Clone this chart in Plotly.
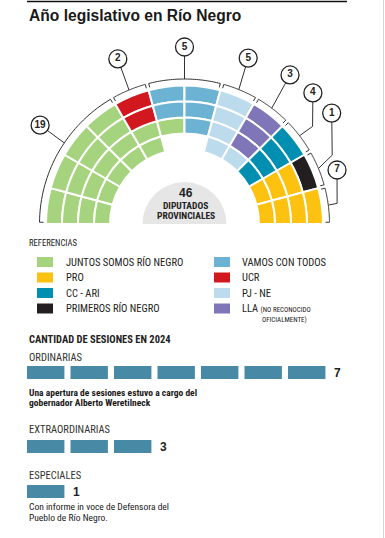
import plotly.graph_objects as go
import numpy as np

W, H = 385, 538

# ---------------- data ----------------
# parties in angular order (left -> right); "VAC" = empty slots in the inner ring
party_keys = ["JSRN", "UCR", "VCT", "VAC", "PJNE", "LLA", "CCARI", "PRN", "PRO"]
party_names = ["JUNTOS SOMOS RÍO NEGRO", "UCR", "VAMOS CON TODOS", "", "PJ - NE",
               "LLA", "CC - ARI", "PRIMEROS RÍO NEGRO", "PRO"]
party_colors = ["#a6d37d", "#d1181f", "#6cb3d3", None, "#bcdbec",
                "#7e76b8", "#008fb0", "#231f20", "#fdc10f"]
# seats per party in each ring (outer -> inner)
seats_ring1 = [4, 1, 2, 0, 1, 1, 1, 1, 1]
seats_ring2 = [4, 1, 2, 0, 1, 1, 1, 0, 2]
seats_ring3 = [6, 0, 1, 0, 1, 1, 1, 0, 2]
seats_ring4 = [5, 0, 0, 2, 2, 0, 1, 0, 2]

legend_left = ["JSRN", "PRO", "CCARI", "PRN"]
legend_right = ["VCT", "UCR", "PJNE", "LLA"]

session_types = ["ORDINARIAS", "EXTRAORDINARIAS", "ESPECIALES"]
session_counts = [7, 3, 1]
session_notes = [["Una apertura de sesiones estuvo a cargo del", "gobernador Alberto Weretilneck"],
                 [],
                 ["Con informe in voce de Defensora del", "Pueblo de Río Negro."]]

# ---------------- layout constants ----------------
FONT_N = "Liberation Sans Narrow, Roboto Condensed, Arial Narrow, sans-serif"
FONT_T = "Liberation Sans, Arial, sans-serif"
INK = "#222222"
CX, CY = 184.5, 224.0
R_MAX = 184.5
RING_OUTER = [138.5, 122.5, 106.5, 90.5]
RING_T = 16.0
BR = 145.0       # bracket radius
BR_TICK = 141.0
# callouts: (start theta on bracket, elbow (r, theta) or None, circle (r, theta))
callouts = {
    "JSRN": (146.0, None, (175.0, 145.6)),
    "UCR": (112.5, None, (178.0, 112.0)),
    "VCT": (90.0, None, (177.0, 90.0)),
    "PJNE": (68.0, None, (177.7, 69.0)),
    "LLA": (53.0, None, (182.6, 54.7)),
    "CCARI": (37.5, (161.0, 37.3), (183.5, 45.6)),
    "PRN": (22.5, (163.0, 25.0), (184.3, 37.0)),
    "PRO": (7.5, (154.0, 7.7), (161.8, 19.5)),
}

fig = go.Figure()

# gray centre
fig.add_trace(go.Barpolar(theta=[90], r=[42], base=[0], width=[180],
                          marker=dict(color="#e6e6e6", line=dict(width=0)),
                          hoverinfo="skip"))

rings = [seats_ring1, seats_ring2, seats_ring3, seats_ring4]
totals = [sum(r[p] for r in rings) for p in range(len(party_keys))]
total_seats = sum(t for t, c in zip(totals, party_colors) if c is not None)

for p, key in enumerate(party_keys):
    if party_colors[p] is None:
        continue
    th, base, rr, wd = [], [], [], []
    for k, ring in enumerate(rings):
        slot = 180.0 / sum(ring)
        s = sum(ring[:p])
        for j in range(ring[p]):
            th.append(180 - (s + j + 0.5) * slot)
            base.append(RING_OUTER[k] - RING_T)
            rr.append(RING_T)
            wd.append(slot)
    fig.add_trace(go.Barpolar(theta=th, r=rr, base=base, width=wd, name=party_names[p],
                              marker=dict(color=party_colors[p], line=dict(color="white", width=2))))

# brackets
slot1 = 180.0 / sum(seats_ring1)
br_r, br_t = [], []
for p, key in enumerate(party_keys):
    if party_colors[p] is None or seats_ring1[p] == 0:
        continue
    s = sum(seats_ring1[:p])
    a0 = 180 - s * slot1 - 0.7
    a1 = 180 - (s + seats_ring1[p]) * slot1 + 0.7
    arc = np.linspace(a0, a1, 40)
    br_r += [BR_TICK] + [BR] * len(arc) + [BR_TICK, None]
    br_t += [a0] + list(arc) + [a1, None]
fig.add_trace(go.Scatterpolar(r=br_r, theta=br_t, mode="lines",
                              line=dict(color="#333333", width=1), hoverinfo="skip"))

# leaders
ld_r, ld_t, c_r, c_t, c_txt = [], [], [], [], []
for p, key in enumerate(party_keys):
    if key not in callouts:
        continue
    t0, elbow, circ = callouts[key]
    ld_r += [BR]; ld_t += [t0]
    if elbow:
        ld_r.append(elbow[0]); ld_t.append(elbow[1])
    ld_r += [circ[0], None]; ld_t += [circ[1], None]
    c_r.append(circ[0]); c_t.append(circ[1]); c_txt.append(f"<b>{totals[p]}</b>")
fig.add_trace(go.Scatterpolar(r=ld_r, theta=ld_t, mode="lines",
                              line=dict(color="#333333", width=1), hoverinfo="skip"))
fig.add_trace(go.Scatterpolar(r=c_r, theta=c_t, mode="markers+text", text=c_txt,
                              textposition="middle center", cliponaxis=False,
                              textfont=dict(family=FONT_T, size=10, color=INK),
                              marker=dict(size=18, color="white", line=dict(color="#222", width=1.3)),
                              hoverinfo="skip"))

# session blocks
BLK_X0, BLK_PITCH = 27.0, 43.5
row_label_y = [357, 429, 475]
row_bar_y = [372.5, 446.5, 491.5]
row_note_y = [[392, 402], [], [506, 517.5]]
for i, (name, n) in enumerate(zip(session_types, session_counts)):
    fig.add_trace(go.Bar(orientation="h", x=[0.86] * n, base=list(range(n)),
                         y=[row_bar_y[i]] * n, width=13, name=name,
                         marker=dict(color="#488aa5", line=dict(width=0)), hoverinfo="skip"))
    fig.add_annotation(text=f"<b>{n}</b>", x=n + 0.02, y=row_bar_y[i], xref="x", yref="y",
                       xanchor="left", yanchor="middle", showarrow=False,
                       font=dict(family=FONT_T, size=12, color=INK))


def txt(s, x, y, size, color=INK, family=FONT_N, bold=False, xanchor="left"):
    fig.add_annotation(text=f"<b>{s}</b>" if bold else s, x=x / W, y=1 - y / H,
                       xref="paper", yref="paper", xanchor=xanchor, yanchor="middle",
                       showarrow=False, font=dict(size=size, color=color, family=family))


txt("Año legislativo en Río Negro", 27, 16, 15.6, color="#1a1a1a", family=FONT_T, bold=True)

# centre label
txt(str(total_seats), CX + 1, 193, 12, bold=True, family=FONT_T, xanchor="center")
txt("DIPUTADOS", CX + 1, 205, 9.5, bold=True, xanchor="center")
txt("PROVINCIALES", CX + 1, 216, 9.5, bold=True, xanchor="center")

# legend
txt("REFERENCIAS", 27, 243, 8.6)
legend_rows_y = [262, 277.5, 293, 308.5]
shapes = []
for col, keys in enumerate([legend_left, legend_right]):
    sx = [37, 214][col]
    lx = [64, 240][col]
    for r, key in enumerate(keys):
        p = party_keys.index(key)
        y = legend_rows_y[r]
        shapes.append(dict(type="rect", xref="paper", yref="paper",
                           x0=sx / W, x1=(sx + 16) / W, y0=1 - (y - 5) / H, y1=1 - (y + 5) / H,
                           fillcolor=party_colors[p], line=dict(width=0)))
        label = party_names[p]
        if key == "LLA":
            label += " <span style='font-size:7px'>(NO RECONOCIDO</span>"
        txt(label, lx, y, 10.5)
txt("OFICIALMENTE)", 260, 320, 7)

# sessions text
txt("CANTIDAD DE SESIONES EN 2024", 27, 339, 10.5, bold=True)
for i, name in enumerate(session_types):
    txt(name, 27, row_label_y[i], 10.5, color="#333")
    for line, y in zip(session_notes[i], row_note_y[i]):
        txt(line, 27, y, 9.5, bold=(i == 0), color="#1a1a1a")

shapes.append(dict(type="line", xref="paper", yref="paper", x0=27 / W, x1=347 / W,
                   y0=1 - 1.5 / H, y1=1 - 1.5 / H, line=dict(color="#111", width=1.5)))
shapes.append(dict(type="line", xref="paper", yref="paper", x0=383.5 / W, x1=383.5 / W,
                   y0=0, y1=1, line=dict(color="#d4d4d4", width=1)))

fig.update_layout(
    width=W, height=H, margin=dict(l=0, r=0, t=0, b=0),
    paper_bgcolor="white", plot_bgcolor="rgba(0,0,0,0)",
    showlegend=False, barmode="overlay", shapes=shapes,
    polar=dict(domain=dict(x=[(CX - R_MAX) / W, (CX + R_MAX) / W],
                           y=[(H - CY) / H, (H - CY + R_MAX) / H]),
               sector=[0, 180], bgcolor="rgba(0,0,0,0)", barmode="overlay", hole=0,
               radialaxis=dict(range=[0, R_MAX], visible=False),
               angularaxis=dict(visible=False)),
    xaxis=dict(domain=[BLK_X0 / W, (BLK_X0 + 8 * BLK_PITCH) / W], range=[0, 8], visible=False,
               fixedrange=True),
    yaxis=dict(domain=[0, 1], range=[H, 0], visible=False, fixedrange=True),
)

fig.write_html("out.html")
